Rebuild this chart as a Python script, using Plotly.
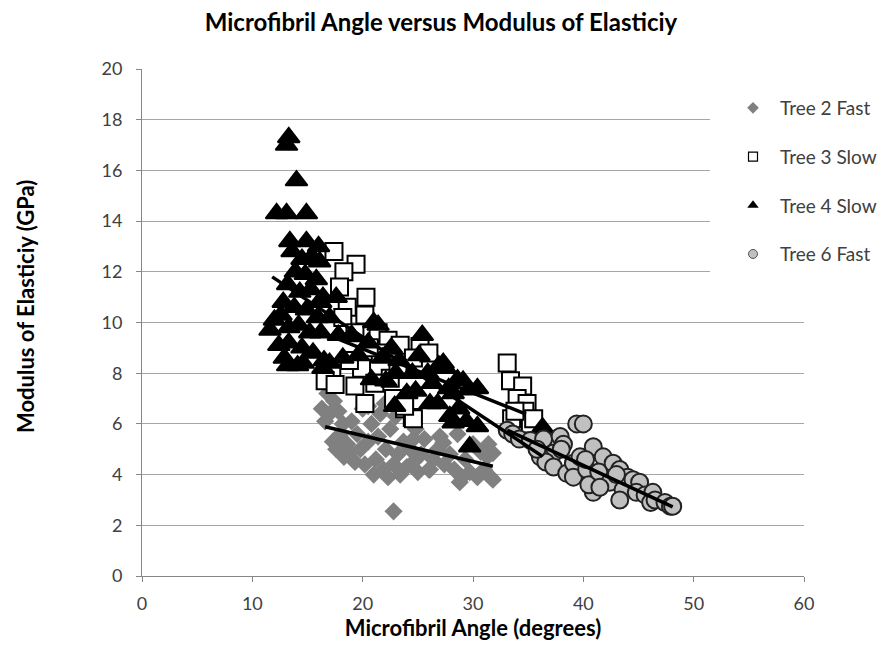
import plotly.graph_objects as go

# Microfibril angle (degrees) and modulus of elasticity (GPa) per tree
tree2_mfa = [16.3, 16.8, 17.0, 17.4, 17.8, 16.6, 17.3, 17.6, 18.0, 18.3, 18.6, 18.9, 19.0, 19.3,
             19.5, 19.8, 20.0, 20.2, 20.5, 20.8, 21.0, 21.2, 21.4, 21.6, 21.9, 22.1, 22.3, 22.5,
             22.8, 22.8, 23.0, 23.2, 23.4, 23.7, 24.0, 24.3, 24.6, 24.8, 25.0, 25.3, 25.6, 26.0,
             26.4, 26.8, 27.0, 27.4, 27.9, 28.3, 28.6, 29.0, 29.3, 29.7, 30.0, 30.4, 30.7, 31.0,
             31.3, 31.6, 31.4, 18.2, 20.5, 22.0, 24.6, 26.1, 27.3, 28.8, 31.8, 31.8]
tree2_moe = [6.6, 7.2, 6.4, 6.9, 6.5, 6.1, 5.3, 5.0, 5.6, 4.7, 5.2, 4.9, 6.1, 4.5,
             5.6, 5.0, 6.6, 4.4, 5.3, 6.0, 4.0, 4.6, 5.5, 6.4, 4.2, 5.0, 3.9, 5.8,
             4.4, 2.55, 6.3, 4.8, 4.0, 5.3, 4.3, 5.0, 4.5, 5.8, 4.1, 4.8, 5.4, 4.2,
             4.6, 5.0, 5.5, 4.4, 4.8, 4.2, 5.6, 3.9, 4.6, 4.1, 5.2, 3.9, 4.9, 4.2,
             4.7, 3.9, 5.2, 6.0, 6.7, 6.8, 5.4, 4.2, 5.26, 3.7, 4.85, 3.8]

tree3_mfa = [17.4, 19.4, 18.3, 17.9, 20.3, 18.6, 20.2, 18.2, 19.3, 21.4, 22.3, 23.4, 25.2, 24.6,
             21.6, 19.9, 18.8, 17.2, 16.6, 17.5, 19.3, 21.1, 22.5, 20.2, 22.8, 23.8, 24.5, 23.2,
             26.0, 33.1, 33.4, 34.5, 34.0, 34.9, 34.7, 33.5, 35.2, 35.5, 33.8, 24.6, 23.8, 20.6]
tree3_moe = [12.8, 12.3, 12.0, 11.4, 11.0, 10.6, 10.3, 10.2, 9.6, 9.6, 9.3, 9.1, 9.05, 8.6,
             8.8, 8.2, 8.5, 8.0, 7.7, 7.55, 7.5, 7.6, 7.8, 6.8, 7.0, 6.6, 6.25, 8.2,
             8.8, 8.4, 7.7, 7.5, 7.0, 6.8, 6.5, 6.2, 6.0, 6.2, 6.5, 6.2, 6.7, 9.0]

tree4_mfa = [13.3, 13.1, 14.0, 12.2, 13.1, 14.9, 13.4, 14.9, 16.0, 13.6, 14.5, 15.4, 16.1, 13.9,
             14.8, 15.8, 13.2, 14.3, 15.3, 16.4, 12.8, 13.8, 14.9, 15.9, 12.0, 11.6, 12.6, 13.3,
             14.2, 15.2, 16.2, 12.4, 13.3, 14.5, 15.5, 13.2, 14.1, 16.5, 17.0, 17.6, 17.8, 19.0,
             18.2, 21.0, 19.6, 21.8, 20.8, 22.1, 23.3, 22.6, 25.1, 25.4, 24.0, 22.9, 26.3, 26.1,
             27.3, 27.5, 27.8, 28.6, 29.1, 29.6, 30.4, 28.2, 28.7, 27.9, 28.2, 29.4, 30.4, 29.7,
             36.3, 24.5, 20.5, 23.0, 16.4, 17.0, 21.4, 26.9, 25.9, 24.8, 26.8, 16.2, 12.9, 14.6]
tree4_moe = [17.3, 17.0, 15.6, 14.3, 14.3, 14.3, 13.2, 13.2, 13.0, 12.8, 12.5, 12.6, 12.4, 12.0,
             11.9, 11.7, 11.5, 11.2, 11.3, 11.0, 10.8, 10.6, 10.5, 10.2, 10.1, 9.7, 10.3, 9.8,
             9.9, 9.6, 9.6, 9.1, 9.2, 9.0, 8.8, 8.3, 8.3, 8.5, 10.2, 11.0, 9.5, 9.5,
             8.6, 10.0, 8.7, 8.6, 7.75, 7.7, 8.5, 9.0, 8.7, 9.5, 7.2, 6.7, 7.6, 6.8,
             8.4, 8.2, 7.4, 7.75, 7.7, 7.35, 7.4, 7.2, 6.6, 6.3, 6.05, 6.1, 5.9, 5.1,
             5.85, 8.0, 9.2, 8.0, 8.2, 8.4, 9.9, 8.3, 8.0, 7.3, 6.8, 10.8, 8.6, 8.4]

tree6_mfa = [33.1, 33.6, 34.2, 35.2, 36.4, 37.9, 38.2, 37.3, 36.1, 36.6, 37.3, 38.5, 39.1, 39.1,
             39.4, 40.0, 39.7, 40.3, 40.9, 40.9, 40.5, 41.8, 41.4, 42.7, 42.4, 43.3, 43.6, 43.3,
             44.0, 44.5, 45.1, 44.8, 45.6, 46.3, 46.1, 46.5, 47.4, 47.9, 48.1, 38.0, 40.2, 35.8,
             41.5, 43.0]
tree6_moe = [5.75, 5.6, 5.4, 5.35, 5.4, 5.5, 5.2, 4.85, 4.7, 4.5, 4.3, 4.05, 4.45, 3.9,
             6.0, 6.0, 4.7, 4.2, 5.1, 3.3, 3.6, 4.7, 4.1, 4.45, 3.7, 4.2, 3.4, 3.0,
             3.9, 3.8, 3.7, 3.3, 3.2, 3.3, 2.9, 3.0, 2.9, 2.75, 2.75, 5.0, 4.6, 5.0,
             3.5, 4.0]

# Linear trend lines: slope, intercept and fitted MFA range
tree2_fit = [-0.1026, 7.59]
tree2_fit_range = [16.6, 31.8]
tree3_fit = [-0.174, 12.44]
tree3_fit_range = [16.6, 34.8]
tree4_fit = [-0.289, 15.21]
tree4_fit_range = [11.8, 36.3]
tree6_fit = [-0.202, 12.44]
tree6_fit_range = [33.1, 48.1]

series_names = ["Tree 2 Fast", "Tree 3 Slow", "Tree 4 Slow", "Tree 6 Fast"]

FONT = "Lato"
fig = go.Figure()

# Scatter series (drawn in series order, no legend entries here)
fig.add_trace(go.Scatter(
    x=tree2_mfa, y=tree2_moe, mode="markers", showlegend=False,
    marker=dict(symbol="diamond", size=14, color="#808080", line=dict(width=0))))
fig.add_trace(go.Scatter(
    x=tree3_mfa, y=tree3_moe, mode="markers", showlegend=False,
    marker=dict(symbol="square", size=17, color="white", line=dict(color="black", width=2))))
fig.add_trace(go.Scatter(
    x=tree4_mfa, y=tree4_moe, mode="markers", showlegend=False,
    marker=dict(symbol="triangle-up", size=19, color="black", line=dict(color="black", width=2))))
fig.add_trace(go.Scatter(
    x=tree6_mfa, y=tree6_moe, mode="markers", showlegend=False,
    marker=dict(symbol="circle", size=17, color="#c0c0c0", line=dict(color="#222222", width=2))))

# Trend lines on top of the markers
for fit, rng in [(tree2_fit, tree2_fit_range), (tree3_fit, tree3_fit_range),
                 (tree4_fit, tree4_fit_range), (tree6_fit, tree6_fit_range)]:
    fig.add_trace(go.Scatter(
        x=rng, y=[fit[0] * v + fit[1] for v in rng], mode="lines", showlegend=False,
        line=dict(color="black", width=3.5), hoverinfo="skip"))

# Small legend symbols
legend_markers = [
    dict(symbol="diamond", size=9, color="#808080"),
    dict(symbol="square", size=9, color="white", line=dict(color="black", width=1.2)),
    dict(symbol="triangle-up", size=10, color="black"),
    dict(symbol="circle", size=9, color="#c0c0c0", line=dict(color="#555555", width=1)),
]
for i, (name, mk) in enumerate(zip(series_names, legend_markers)):
    fig.add_trace(go.Scatter(
        x=[None], y=[None], mode="markers", name=name, marker=mk,
        legendgroup=f"g{i}", showlegend=True))

grid_col = "#a6a6a6"
axis_col = "#868686"
fig.update_layout(
    width=882, height=654,
    paper_bgcolor="white", plot_bgcolor="white",
    margin=dict(l=142, r=78, t=69, b=78, autoexpand=False),
    font=dict(family=FONT, color="#404040"),
    title=dict(text="<b>Microfibril Angle versus Modulus of Elasticiy</b>",
               x=0.5, xref="container", xanchor="center",
               y=1 - 23 / 654, yref="container", yanchor="middle",
               font=dict(family=FONT, size=24, color="black")),
    xaxis=dict(range=[0, 60], dtick=10, showgrid=False, zeroline=False,
               showline=True, linecolor=axis_col, linewidth=1,
               ticks="outside", ticklen=5, tickcolor=axis_col, ticklabelstandoff=6,
               tickfont=dict(size=18, color="#404040"),
               title=dict(text="<b>Microfibril Angle (degrees)</b>",
                          font=dict(family=FONT, size=22, color="black"), standoff=8)),
    yaxis=dict(range=[0, 20], dtick=2, showgrid=True, gridcolor=grid_col, gridwidth=1,
               zeroline=False, showline=True, linecolor=axis_col, linewidth=1,
               ticks="outside", ticklen=5, tickcolor=axis_col, ticklabelstandoff=10,
               tickfont=dict(size=18, color="#404040")),
    annotations=[dict(text="<b>Modulus of Elasticiy (GPa)</b>", textangle=-90,
                      xref="paper", x=(25 - 142) / 662, xanchor="center",
                      yref="paper", y=(576 - 307) / 507, yanchor="middle",
                      showarrow=False, font=dict(family=FONT, size=22, color="black"))],
    legend=dict(x=(710 - 142) / 662, xanchor="left", y=(576 - 73) / 507, yanchor="top",
                bgcolor="white", borderwidth=16, bordercolor="white",
                font=dict(family=FONT, size=19, color="#404040"),
                tracegroupgap=21, itemwidth=44),
)

fig.write_html("out.html")
